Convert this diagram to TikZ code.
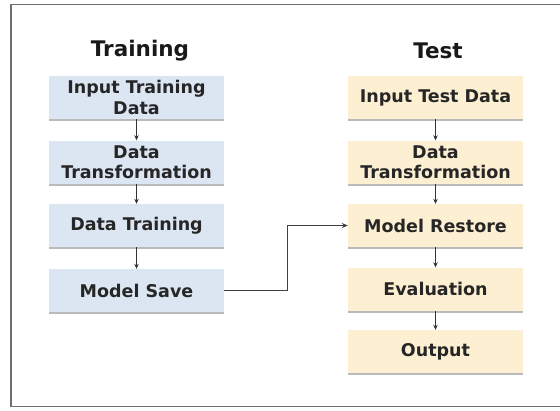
\documentclass[tikz,border=0pt]{standalone}
\usepackage{fontspec}
\setmainfont{DejaVu Sans}
\usetikzlibrary{arrows.meta,shadows}
\definecolor{bluefill}{HTML}{DCE6F2}
\definecolor{yellowfill}{HTML}{FDF0D2}
\definecolor{framegray}{HTML}{6E6E6E}
\begin{document}
\begin{tikzpicture}[x=1pt,y=-1pt,
  box/.style={minimum width=175pt, minimum height=43pt, inner sep=0pt, align=center,
    font=\bfseries\fontsize{17.5}{20.5}\selectfont, text=black!85,
    drop shadow={shadow xshift=0pt, shadow yshift=-2pt, opacity=0.45, fill=black!60}},
  trainbox/.style={box, fill=bluefill},
  testbox/.style={box, fill=yellowfill},
  title/.style={font=\bfseries\fontsize{21.5}{25}\selectfont, text=black!90},
  arr/.style={-{Stealth[length=5pt,width=4.5pt]}, line width=1pt, black!80},
  link/.style={-{Stealth[length=6pt,width=5pt]}, line width=1.3pt, black!75}]
\useasboundingbox (0,0) rectangle (560,410);
\fill[white] (0,0) rectangle (560,410);
\draw[framegray, line width=1.3pt] (560,4.5) -- (11,4.5) -- (11,406.5) -- (560,406.5);

\node[title] (ttrain) at (140,51) {Training};
\node[title] (ttest) at (438,51) {Test};

\node[trainbox] (a1) at (136.5,97.5) {Input Training\\Data};
\node[trainbox] (a2) at (136.5,162) {Data\\Transformation};
\node[trainbox] (a3) at (136.5,225.5) {Data Training};
\node[trainbox] (a4) at (136.5,290.5) {Model Save};

\node[testbox] (b1) at (435.5,97.5) {Input Test Data};
\node[testbox] (b2) at (435.5,162) {Data\\Transformation};
\node[testbox] (b3) at (435.5,225.5) {Model Restore};
\node[testbox] (b4) at (435.5,289) {Evaluation};
\node[testbox] (b5) at (435.5,351.5) {Output};

\draw[arr] (a1) -- (a2);
\draw[arr] (a2) -- (a3);
\draw[arr] (a3) -- (a4);
\draw[arr] (b1) -- (b2);
\draw[arr] (b2) -- (b3);
\draw[arr] (b3) -- (b4);
\draw[arr] (b4) -- (b5);
\draw[link] (a4.east) -- ++(63,0) |- (b3.west);
\end{tikzpicture}
\end{document}
